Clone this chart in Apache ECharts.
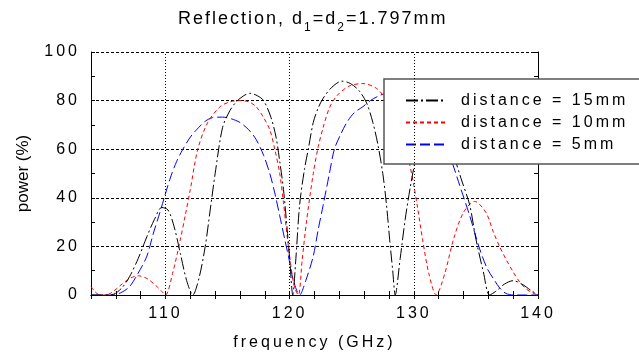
<!DOCTYPE html>
<html>
<head>
<meta charset="utf-8">
<script src="https://cdn.jsdelivr.net/npm/echarts@6/dist/echarts.min.js"></script>
<style>
  html, body { margin: 0; padding: 0; background: #fff; }
  #chart { width: 639px; height: 357px; }
</style>
</head>
<body>
<div id="chart"></div>
<script>
// reference text is set with wide tracking; canvas has letterSpacing, echarts has no option for it
const tracking = { '18px': '2px', '16px': '3px', '12px': '2px' }
const fontProp = Object.getOwnPropertyDescriptor(CanvasRenderingContext2D.prototype, 'font')
Object.defineProperty(CanvasRenderingContext2D.prototype, 'font', {
  get() { return fontProp.get.call(this) },
  set(v) {
    fontProp.set.call(this, v)
    const m = /(\d+)px/.exec(v)
    this.letterSpacing = (m && tracking[m[1] + 'px']) || '0px'
  }
})

const FONT = 'Liberation Sans'

// x ticks and labels
const xMin = 104
const xMax = 140
const xGridLines = [110, 120, 130]
const yTicks = [0, 20, 40, 60, 80, 100]

const seriesNames = ['distance = 15mm', 'distance = 10mm', 'distance = 5mm']

// distance = 15mm (black, dash-dot)
const freq15 = [104, 105, 105.8, 106.5, 107.1, 107.8, 108.5, 109.1, 109.7, 110.2, 110.7, 111.2, 111.7, 112.2,
  112.7, 113.2, 113.6, 114.0, 114.6, 115.2, 115.7, 116.3, 116.8, 117.4, 117.9, 118.5, 118.9, 119.2, 119.5,
  119.8, 120.0, 120.25, 120.5, 120.8, 121.2, 121.5, 121.9, 122.3, 122.7, 123.4, 124.2, 124.9, 125.6, 126.2,
  126.7, 127.1, 127.5, 127.8, 128.05, 128.3, 128.5, 128.9, 129.3, 129.7, 130.1, 130.6, 131.1, 131.7, 132.2,
  132.7, 133.2, 133.8, 134.5, 135.0, 135.6, 136.1, 136.6, 137.3, 138.0, 138.7, 139.4, 140]
const power15 = [0, 0, 0.3, 3, 7.5, 15, 24, 31, 36, 35, 28, 17, 6, 0,
  7, 20, 35, 50, 69, 76, 79.5, 82, 83, 82, 80, 73, 65, 55, 43.5,
  27, 15, 0, 15, 37, 52, 60, 71, 77, 81, 85.5, 88, 87, 84, 79,
  71, 62, 50, 37, 23, 10, 0, 15, 31, 44, 55, 66, 74, 79, 77,
  69, 58, 48, 37, 23, 9.5, 0, 1.5, 4.5, 5.9, 4.5, 2, 0]

// distance = 10mm (red, short dash)
const freq10 = [104, 104.3, 104.7, 105.2, 105.8, 106.5, 107.2, 107.8, 108.5, 109.2, 109.7, 110.0, 110.6,
  111.2, 111.6, 112.0, 112.6, 113.4, 114.4, 115.2, 116.0, 116.7, 117.3, 117.9, 118.4, 118.8, 119.2, 119.5,
  119.7, 120.1, 120.4, 120.7, 121.0, 121.35, 121.9, 122.3, 122.7, 123.2, 123.8, 124.8, 125.9, 127.0, 127.8,
  128.4, 129.0, 129.6, 130.0, 130.3, 130.7, 131.2, 131.8, 132.5, 133.2, 134.0, 134.9, 135.8, 136.4, 136.9,
  137.5, 138.0, 138.5, 139.0, 139.5, 140]
const power10 = [3.5, 1.5, 0, 0, 1.5, 4.5, 7, 7.9, 6.8, 4, 1.5, 0, 9.5,
  23, 33, 43.5, 60, 71, 77.5, 79.5, 80, 79.5, 77.5, 73, 68, 60, 50, 38,
  28.6, 12, 3, 0, 14, 30, 50, 61, 69, 77, 82, 86, 87, 85, 80,
  73, 64, 55, 45, 36, 23, 9, 0, 9, 23, 34, 38.5, 34, 26, 20,
  14, 9.5, 5.5, 2.7, 1, 0]

// distance = 5mm (blue, long dash)
const freq5 = [104, 105.8, 106.5, 107.1, 107.8, 108.5, 109.0, 109.55, 110.35, 110.9, 111.4, 112.0, 112.5,
  113.2, 113.8, 114.6, 115.3, 116.0, 116.7, 117.3, 117.9, 118.4, 118.8, 119.2, 119.6, 119.9, 120.3, 120.8,
  121.3, 121.9, 122.3, 122.7, 123.2, 123.6, 124.1, 124.6, 125.2, 125.9, 126.5, 127.2, 128.0, 128.8, 129.6,
  130.4, 131.2, 132.0, 132.9, 133.7, 134.5, 135.3, 135.9, 136.4, 136.9, 137.4, 138, 139, 140]
const power5 = [0, 0, 1.2, 3.4, 9, 16, 25, 34, 47.6, 55, 60, 65, 68,
  71.5, 73, 73.2, 72.5, 71, 68, 64, 57.5, 50, 42, 32.6, 23, 16, 6, 0,
  6, 16, 27, 37, 50, 60, 66, 71, 75, 77.5, 80, 82, 83.5, 84, 83,
  79, 73, 66, 57, 45, 32.6, 19, 11, 6.8, 3, 0.7, 0, 0, 0]

const pairs = (xs, ys) => xs.map((x, i) => [x, ys[i]])

const chart = echarts.init(document.getElementById('chart'), null, { renderer: 'canvas' })

const textBase = { fontFamily: FONT, color: '#000', fontWeight: 'normal' }

const option = {
  animation: false,
  backgroundColor: '#fff',
  title: {
    left: 178,
    top: 8,
    padding: 0,
    text: '{a|Reflection, d}{s|1}{a|=d}{s|2}{a|=1.797mm}',
    textStyle: {
      fontWeight: 'normal',
      rich: {
        a: { ...textBase, fontSize: 18, lineHeight: 22 },
        s: { ...textBase, fontSize: 12, lineHeight: 12, padding: [17, 0, 0, 0] }
      }
    }
  },
  legend: {
    data: seriesNames,
    orient: 'vertical',
    left: 384,
    top: 79,
    padding: [12, 40, 10, 21],
    itemWidth: 40,
    itemHeight: 14,
    itemGap: 3,
    itemStyle: { opacity: 0 },
    backgroundColor: '#fff',
    borderColor: '#555',
    borderWidth: 1.5,
    borderRadius: 0,
    textStyle: { ...textBase, fontSize: 16, padding: [0, 0, 0, 10] }
  },
  grid: { left: 91, right: 101, top: 52, bottom: 60 },
  xAxis: [
    {
      type: 'value',
      min: xMin,
      max: xMax,
      interval: 2,
      name: 'frequency (GHz)',
      nameLocation: 'middle',
      nameGap: 38,
      nameTextStyle: { ...textBase, fontSize: 16 },
      axisLine: { lineStyle: { color: '#000', width: 1 } },
      axisTick: { inside: true, length: 4, lineStyle: { color: '#000' } },
      axisLabel: {
        ...textBase,
        fontSize: 16,
        margin: 9,
        formatter: (v) => (v % 10 === 0 ? String(v) : '')
      },
      splitLine: { show: false }
    },
    {
      type: 'value',
      position: 'top',
      min: xMin,
      max: xMax,
      interval: 2,
      axisLine: { lineStyle: { color: '#000', width: 1 } },
      axisTick: { inside: true, length: 4, lineStyle: { color: '#000' } },
      axisLabel: { show: false },
      splitLine: { show: false }
    }
  ],
  yAxis: [
    {
      type: 'value',
      min: yTicks[0],
      max: yTicks[yTicks.length - 1],
      interval: 20,
      name: 'power (%)',
      nameLocation: 'middle',
      nameGap: 59,
      nameTextStyle: { ...textBase, fontSize: 17 },
      axisLine: { show: true, lineStyle: { color: '#000', width: 1 } },
      axisTick: { inside: true, length: 4, lineStyle: { color: '#000' } },
      minorTick: { show: true, splitNumber: 2, length: 4, lineStyle: { color: '#000' } },
      axisLabel: { ...textBase, fontSize: 16, margin: 11, padding: [4, 0, 0, 0] },
      splitLine: { show: true, lineStyle: { color: '#000', width: 1, type: [3, 2] } }
    },
    {
      type: 'value',
      position: 'right',
      min: yTicks[0],
      max: yTicks[yTicks.length - 1],
      interval: 20,
      axisLine: { show: true, lineStyle: { color: '#000', width: 1 } },
      axisTick: { inside: true, length: 4, lineStyle: { color: '#000' } },
      minorTick: { show: true, splitNumber: 2, length: 4, lineStyle: { color: '#000' } },
      axisLabel: { show: false },
      splitLine: { show: false }
    }
  ],
  series: [
    {
      name: seriesNames[2],
      type: 'line',
      data: pairs(freq5, power5),
      symbol: 'none',
      smooth: 0.3,
      color: '#0000ff',
      lineStyle: { color: '#0000ff', width: 1, type: [10, 4] },
      markLine: {
        silent: true,
        symbol: 'none',
        label: { show: false },
        lineStyle: { color: '#000', width: 1, type: [1, 2] },
        data: xGridLines.map((x) => ({ xAxis: x }))
      }
    },
    {
      name: seriesNames[1],
      type: 'line',
      data: pairs(freq10, power10),
      symbol: 'none',
      smooth: 0.3,
      color: '#ff0000',
      lineStyle: { color: '#ff0000', width: 1, type: [4, 3] }
    },
    {
      name: seriesNames[0],
      type: 'line',
      data: pairs(freq15, power15),
      symbol: 'none',
      smooth: 0.3,
      color: '#000',
      lineStyle: { color: '#000', width: 1, type: [12, 3, 2, 3] }
    }
  ]
}

chart.setOption(option)
</script>
</body>
</html>
